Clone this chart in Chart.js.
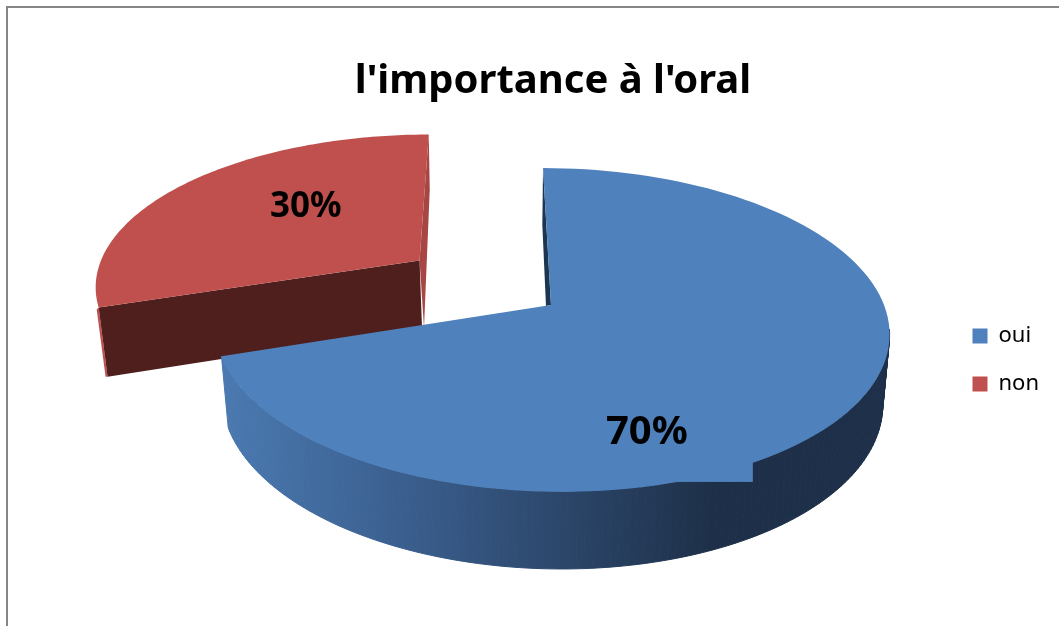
<!DOCTYPE html>
<html>
<head>
<meta charset="utf-8">
<script src="https://cdn.jsdelivr.net/npm/chart.js@4"></script>
<style>
html, body { margin: 0; padding: 0; background: #fff; overflow: hidden; }
canvas { display: block; }
</style>
</head>
<body>
<canvas id="pieChart" width="1059" height="626"></canvas>
<script>
var categories = ['oui', 'non'];
var values = [70, 30];
var sliceColors = ['#4f81bd', '#c0504d'];

// flat pie plane -> screen, with a bit of perspective like the office 3D pie
var view = { x: 551, y: 305, rx: 333, ry: 158, shear: 9.2, persp: 0.154, depth: 70.6, depthPersp: 0.02 };
var explode = [0, 0.5];
var labelSpots = [[0.236, 0.72], [-0.795, -0.686]];
var labelFonts = [40, 35];

function project(u, v, z) {
    var w = 1 - view.persp * v + view.depthPersp * z;
    return {
        x: view.x + (view.rx * u + view.shear * v) / w,
        y: view.y + (view.ry * v + view.depth * z) / w
    };
}

function poly(ctx, pts, fill) {
    ctx.beginPath();
    pts.forEach(function (p, i) {
        if (i === 0) ctx.moveTo(p.x, p.y); else ctx.lineTo(p.x, p.y);
    });
    ctx.closePath();
    ctx.fillStyle = fill;
    ctx.fill();
}

function rim(a0, a1, ox, oy, z) {
    var pts = [];
    for (var i = 0; i <= 120; i++) {
        var a = a0 + (a1 - a0) * i / 120;
        pts.push(project(ox + Math.cos(a), oy + Math.sin(a), z));
    }
    return pts;
}

var pie3d = {
    id: 'pie3d',
    beforeDraw: function (chart) {
        var ctx = chart.ctx;
        ctx.save();
        ctx.strokeStyle = '#868686';
        ctx.lineWidth = 2;
        ctx.strokeRect(7, 7, 1200, 800);
        ctx.restore();
    },
    beforeDatasetsDraw: function (chart) {
        var ctx = chart.ctx;
        var arcs = chart.getDatasetMeta(0).data;
        ctx.save();

        // red slice first, it sits behind the blue one
        var red = arcs[1], mid = (red.startAngle + red.endAngle) / 2;
        var ox = Math.cos(mid) * explode[1], oy = Math.sin(mid) * explode[1];
        var apex = project(ox, oy, 0), apexLow = project(ox, oy, 1);
        var rTop = project(ox + Math.cos(red.endAngle), oy + Math.sin(red.endAngle), 0);
        var rLeft = project(ox + Math.cos(red.startAngle), oy + Math.sin(red.startAngle), 0);
        var rLeftLow = project(ox + Math.cos(red.startAngle), oy + Math.sin(red.startAngle), 1);
        poly(ctx, [rTop, { x: rTop.x + 1, y: rTop.y + 55 }, { x: apexLow.x + 2, y: apexLow.y }, apex], '#a84644');
        poly(ctx, [rLeft, { x: rLeft.x - 2, y: rLeft.y + 2 }, { x: rLeftLow.x - 2, y: rLeftLow.y }, rLeftLow], '#c0504d');
        poly(ctx, [rLeft, apex, apexLow, rLeftLow], '#4e1f1d');
        poly(ctx, [apex].concat(rim(red.startAngle, red.endAngle, ox, oy, 0)), red.options.backgroundColor);

        // blue slice: outer wall strip by strip, dark cut edge, then the top
        var blue = arcs[0];
        var wall = ctx.createLinearGradient(225, 0, 710, 0);
        wall.addColorStop(0, '#4a79b0');
        wall.addColorStop(0.35, '#3b6090');
        wall.addColorStop(1, '#1e3049');
        var up = rim(0.15, blue.endAngle, 0, 0, 0), low = rim(0.15, blue.endAngle, 0, 0, 1);
        ctx.strokeStyle = wall;
        ctx.lineWidth = 1;
        for (var i = 0; i < up.length - 1; i++) {
            poly(ctx, [up[i], up[i + 1], low[i + 1], low[i]], wall);
            ctx.stroke();
        }
        var bApex = project(0, 0, 0), bTop = project(0, -1, 0), bMid = project(0, -0.55, 0);
        poly(ctx, [bTop, { x: bMid.x - 4, y: bMid.y }, { x: bApex.x - 5, y: bApex.y + 1 }, bApex], '#1c3550');
        poly(ctx, [bApex].concat(rim(blue.startAngle, blue.endAngle, 0, 0, 0)), blue.options.backgroundColor);

        // labels, the 70% one has a filled box that pokes over the wall
        var total = values[0] + values[1];
        values.forEach(function (val, i) {
            var p = project(labelSpots[i][0], labelSpots[i][1], 0);
            if (i === 0) {
                ctx.fillStyle = sliceColors[0];
                ctx.fillRect(p.x, p.y, 106, 49);
            }
            ctx.fillStyle = '#000';
            ctx.font = 'bold ' + labelFonts[i] + 'px "Noto Sans"';
            ctx.textAlign = 'center';
            ctx.textBaseline = 'middle';
            ctx.fillText(Math.round(val / total * 100) + '%', p.x, p.y);
        });
        ctx.restore();
        return false;
    }
};

new Chart(document.getElementById('pieChart').getContext('2d'), {
    type: 'pie',
    data: {
        labels: categories,
        datasets: [{
            data: values,
            backgroundColor: sliceColors,
            borderWidth: 0
        }]
    },
    options: {
        responsive: false,
        animation: false,
        layout: { padding: { top: 58, left: 57, right: 10, bottom: 22 } },
        plugins: {
            title: {
                display: true,
                text: "l'importance à l'oral",
                color: '#000',
                font: { family: '"Noto Sans"', size: 40, weight: 'bold' },
                padding: { top: 0, bottom: 10 }
            },
            legend: {
                position: 'right',
                fullSize: false,
                labels: {
                    color: '#000',
                    boxWidth: 15,
                    boxHeight: 15,
                    padding: 26,
                    font: { family: '"Noto Sans"', size: 22 }
                }
            },
            tooltip: { enabled: false }
        }
    },
    plugins: [pie3d]
});
</script>
</body>
</html>
